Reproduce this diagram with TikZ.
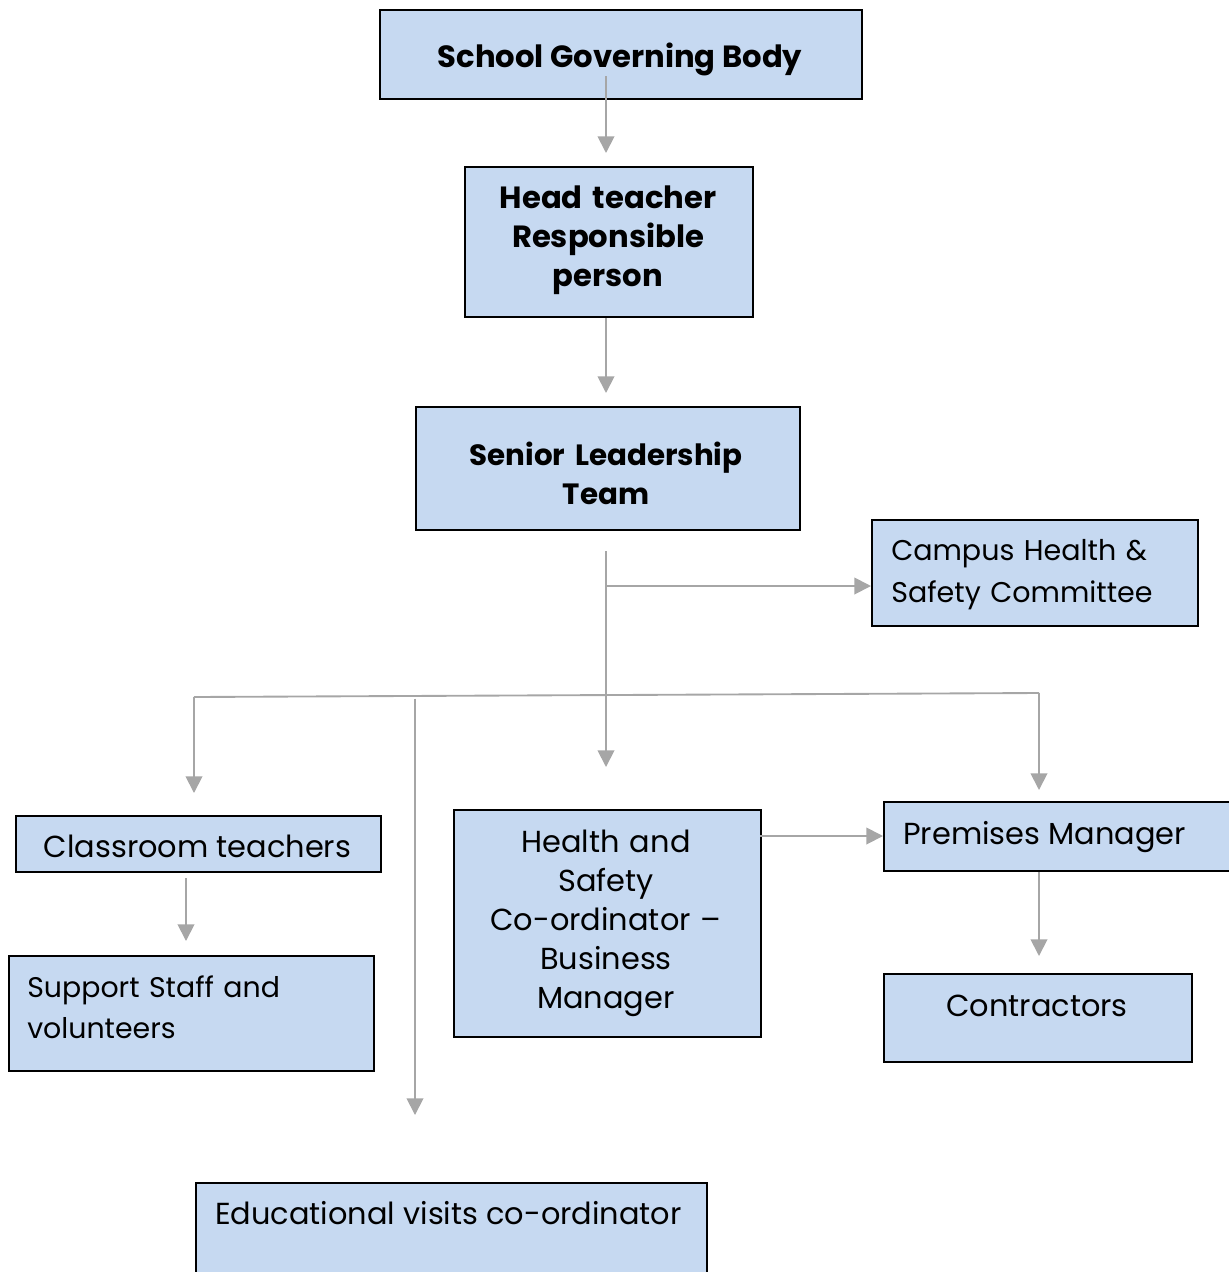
\documentclass[tikz,border=0pt]{standalone}
\usepackage{fontspec}
\setmainfont{Poppins}
\usetikzlibrary{arrows.meta}
\definecolor{boxblue}{HTML}{C6D9F1}
\definecolor{conngray}{HTML}{A6A6A6}
\tikzset{
  box/.style={draw=black, fill=boxblue, line width=1.5pt, inner sep=0pt, rectangle, anchor=north west},
  conn/.style={draw=conngray, line width=1.4pt, -{Triangle[length=12.5pt,width=12.5pt]}},
  plainline/.style={draw=conngray, line width=1.4pt},
  lbl/.style={inner sep=0pt, font=\fontsize{22.8}{29.6}\selectfont},
  lblb/.style={inner sep=0pt, font=\fontsize{23}{29.6}\selectfont\bfseries},
}
\begin{document}
\begin{tikzpicture}[x=0.75pt,y=-0.75pt]
\useasboundingbox (0,0) rectangle (1229,1272);
\clip (0,0) rectangle (1229,1272);
% boxes
\node[box, minimum width=361.5pt, minimum height=66.75pt] (sgb) at (379,9) {};
\node[box, minimum width=216pt, minimum height=112.5pt] (ht) at (464,166) {};
\node[box, minimum width=288pt, minimum height=92.25pt] (slt) at (415,406) {};
\node[box, minimum width=244.5pt, minimum height=79.5pt] (chs) at (871,519) {};
\node[box, minimum width=273.75pt, minimum height=42pt] (ct) at (15,815) {};
\node[box, minimum width=273.75pt, minimum height=86.25pt] (ss) at (8,955) {};
\node[box, minimum width=230.25pt, minimum height=170.25pt] (hsc) at (453,809) {};
\node[box, minimum width=300pt, minimum height=51.75pt] (pm) at (883,801) {};
\node[box, minimum width=231pt, minimum height=66pt] (con) at (883,973) {};
\node[box, minimum width=383.25pt, minimum height=90pt] (evc) at (195,1182) {};
% connector points
\coordinate (sgbOut) at (606,76);
\coordinate (htIn) at (606,153);
\coordinate (sltIn) at (606,393);
\coordinate (sltOut) at (606,551);
\coordinate (chsJ) at (606,586);
\coordinate (hscIn) at (606,767);
\coordinate (jL) at (194,697);
\coordinate (jR) at (1039,693);
\coordinate (jEV) at (415,698.5);
\coordinate (ctIn) at (194,793);
\coordinate (evcIn) at (415,1115);
\coordinate (pmIn) at (1039,790);
\coordinate (ctOut) at (186,878);
\coordinate (ssIn) at (186,941);
\coordinate (hscOut) at (760,836);
\coordinate (conIn) at (1039,956);
% connectors
\draw[conn] (sgbOut) -- (htIn);
\draw[conn] (ht.south -| htIn) -- (sltIn);
\draw[conn] (sltOut) -- (hscIn);
\draw[conn] (chsJ) -- (chsJ -| chs.west);
\draw[plainline] (jL) -- (jR);
\draw[conn] (jL) -- (ctIn);
\draw[conn] (jEV) -- (evcIn);
\draw[conn] (jR) -- (pmIn);
\draw[conn] (ctOut) -- (ssIn);
\draw[conn] (hscOut) -- (hscOut -| pm.west);
\draw[conn] (pm.south -| conIn) -- (conIn);
% labels
\node[lblb, anchor=base] (sgbT) at (620,67) {School Governing Body};
\node[lblb, text width=230pt, align=center, anchor=base] (htT) at (608,208) {Head teacher\\Responsible\\person};
\node[lblb, text width=288pt, align=center, anchor=base, font=\fontsize{22}{29.6}\selectfont\bfseries] (sltT) at (606,465) {Senior Leadership\\Team};
\node[lbl, text width=244pt, align=left, anchor=base west, font=\fontsize{21.4}{31.5}\selectfont] (chsT) at (891,560) {Campus Health \&\\Safety Committee};
\node[lbl, anchor=base] (ctT) at (197.5,857) {Classroom teachers};
\node[lbl, text width=270pt, align=left, anchor=base west, font=\fontsize{21.3}{30.75}\selectfont] (ssT) at (27,997) {Support Staff and\\volunteers};
\node[lbl, text width=230pt, align=center, anchor=base, font=\fontsize{22.8}{29.4}\selectfont] (hscT) at (606,852) {Health and\\Safety\\Co-ordinator –\\Business\\Manager};
\node[lbl, anchor=base west] (pmT) at (903,844) {Premises Manager};
\node[lbl, anchor=base] (conT) at (1037,1016) {Contractors};
\node[lbl, anchor=base west] (evcT) at (215,1224) {Educational visits co-ordinator};
\end{tikzpicture}
\end{document}
